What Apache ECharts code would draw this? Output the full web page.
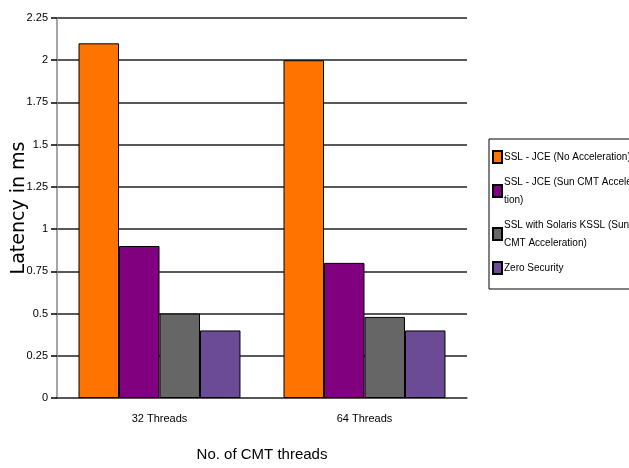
<!DOCTYPE html>
<html><head><meta charset="utf-8">
<script src="https://cdn.jsdelivr.net/npm/echarts@6/dist/echarts.min.js"></script>
<style>html,body{margin:0;padding:0;background:#fff}#c{width:629px;height:468px}</style>
</head><body><div id="c"></div>
<script>
const categories = ['32 Threads', '64 Threads'];
const seriesNames = ['SSL - JCE (No Acceleration)', 'SSL - JCE (Sun CMT Acceleration)', 'SSL with Solaris KSSL (Sun CMT Acceleration)', 'Zero Security'];
const legendLabels = ['SSL - JCE (No Acceleration)', 'SSL - JCE (Sun CMT Accelera-\ntion)', 'SSL with Solaris KSSL (Sun\nCMT Acceleration)', 'Zero Security'];
const noAccel = [2.1, 2.0];
const cmtAccel = [0.9, 0.8];
const kssl = [0.5, 0.48];
const zeroSec = [0.4, 0.4];
const values = [noAccel, cmtAccel, kssl, zeroSec];
const colors = ['#ff7300', '#800080', '#666666', '#6b4a96'];
const yTicks = ['0','0.25','0.5','0.75','1','1.25','1.5','1.75','2','2.25'];

const FONT = '"Liberation Sans", Arial, sans-serif';
const chart = echarts.init(document.getElementById('c'));
chart.setOption({
  animation: false,
  backgroundColor: '#fff',
  grid: { left: 57, right: 162, top: 18, bottom: 70, containLabel: false, outerBoundsMode: 'none' },
  legend: {
    orient: 'vertical', left: 489, top: 139,
    itemWidth: 9, itemHeight: 12, itemGap: 7,
    borderColor: '#000', borderWidth: 1,
    padding: [9, 40, 12, 3],
    icon: 'rect',
    textStyle: { fontFamily: FONT, fontSize: 10, color: '#000', lineHeight: 18, padding: [0,0,0,-3] },
    formatter: function(n){ return legendLabels[seriesNames.indexOf(n)]; },
    data: seriesNames
  },
  xAxis: {
    type: 'category', data: categories,
    name: 'No. of CMT threads', nameLocation: 'middle', nameGap: 49,
    nameTextStyle: { fontFamily: FONT, fontSize: 15, color: '#000' },
    axisLine: { lineStyle: { color: '#555', width: 1.5 } },
    axisTick: { length: 8, lineStyle: { color: '#777', width: 1.5 } },
    axisLabel: { fontFamily: FONT, fontSize: 11, color: '#000', margin: 15 }
  },
  yAxis: {
    type: 'value', min: 0, max: 2.25, interval: 0.25,
    name: 'Latency in ms', nameLocation: 'middle', nameGap: 28, nameRotate: 90,
    nameMoveOverlap: false,
    nameTextStyle: { fontFamily: '"DejaVu Sans", sans-serif', fontSize: 19, color: '#000' },
    axisLine: { show: true, lineStyle: { color: '#888', width: 1.5 } },
    axisTick: { show: true, length: 6, lineStyle: { color: '#000', width: 1.5 } },
    axisLabel: { fontFamily: FONT, fontSize: 11, color: '#000', margin: 9,
      formatter: function(v){ const i = Math.round(v/0.25); return yTicks[i]; } },
    splitLine: { lineStyle: { color: '#222', width: 1.5 } }
  },
  series: seriesNames.map((n, i) => ({
    name: n, type: 'bar', data: values[i],
    barGap: '0%', barCategoryGap: '21%',
    itemStyle: { color: colors[i], borderColor: '#000', borderWidth: 1 }
  }))
});
</script></body></html>
